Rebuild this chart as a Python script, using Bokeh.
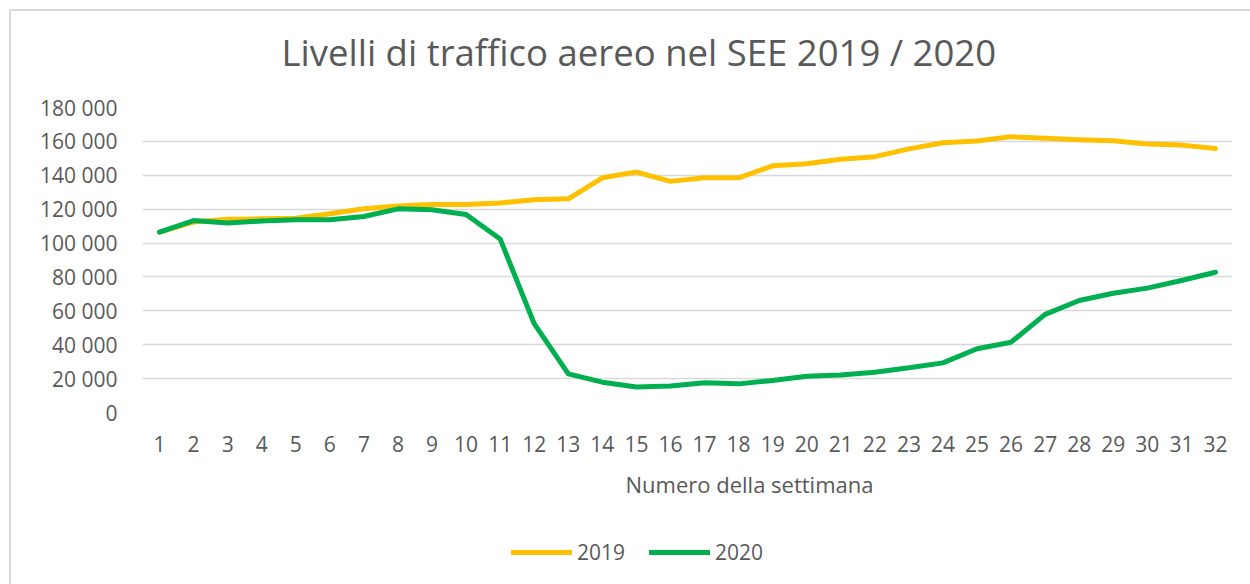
from bokeh.plotting import figure
from bokeh.models import Range1d, Legend, LegendItem, FixedTicker, Title, Label
from bokeh.layouts import column
from bokeh.embed import file_html
from bokeh.resources import INLINE

weeks = list(range(1, 33))
week_labels = [str(w) for w in weeks]
traffic_2019 = [106500, 112400, 114100, 114300, 114700, 117300, 120200, 121800,
                122800, 122800, 123600, 125600, 126100, 138500, 141900, 136400,
                138500, 138500, 145600, 146800, 149400, 151000, 155600, 159200,
                160200, 162800, 161800, 161000, 160400, 158400, 157800, 155800]
traffic_2020 = [106400, 113300, 111800, 113000, 113800, 113800, 115700, 120200,
                119600, 116900, 102400, 52400, 22800, 17900, 15000, 15600,
                17500, 16900, 18900, 21400, 22200, 23800, 26400, 29300,
                37600, 41500, 57900, 66100, 70400, 73400, 77900, 82800]
y_ticks = [0, 20000, 40000, 60000, 80000, 100000, 120000, 140000, 160000, 180000]
y_tick_labels = ["0", "20 000", "40 000", "60 000", "80 000", "100 000",
                 "120 000", "140 000", "160 000", "180 000"]
title_text = "Livelli di traffico aereo nel SEE 2019 / 2020"
x_title = "Numero della settimana"
series_names = ["2019", "2020"]
series_colors = ["#FFC000", "#00B050"]

FONT = "Open Sans"
TXT = "#595959"
LW = 5
W = 1239


def strip(height):
    s = figure(width=W, height=height, output_backend="svg", toolbar_location=None,
               x_range=Range1d(0, 1), y_range=Range1d(0, 1),
               x_axis_type=None, y_axis_type=None,
               min_border_left=0, min_border_right=0, min_border_top=0,
               min_border_bottom=0)
    s.outline_line_color = None
    s.grid.visible = False
    s.border_fill_color = "white"
    s.background_fill_color = "white"
    return s


# title strip
t = strip(80)
t.add_layout(Label(x=139 / 1090, y=1 - 40 / 80, text=title_text,
                   text_align="left", text_baseline="alphabetic",
                   text_font=FONT, text_font_size="36.5px", text_color=TXT))

# main chart
p = figure(width=W, height=429, output_backend="svg", toolbar_location=None,
           x_range=Range1d(0.5, 32.5), y_range=Range1d(0, 180000),
           min_border_left=131, min_border_right=18, min_border_top=16,
           min_border_bottom=108)
p.outline_line_color = None
p.background_fill_color = "white"
p.border_fill_color = "white"

p.line(weeks, traffic_2019, line_color=series_colors[0], line_width=LW,
       line_cap="round", line_join="round")
p.line(weeks, traffic_2020, line_color=series_colors[1], line_width=LW,
       line_cap="round", line_join="round")

p.xgrid.visible = False
p.ygrid.grid_line_color = "#d9d9d9"
p.ygrid.grid_line_width = 1.5
p.yaxis.ticker = FixedTicker(ticks=y_ticks)
p.yaxis.major_label_overrides = {tk: lb for tk, lb in zip(y_ticks, y_tick_labels)}
p.xaxis.ticker = FixedTicker(ticks=weeks)
p.xaxis.major_label_overrides = {w: lb for w, lb in zip(weeks, week_labels)}
for ax in (p.xaxis, p.yaxis):
    ax.axis_line_color = None
    ax.major_tick_line_color = None
    ax.minor_tick_line_color = None
    ax.major_tick_out = 0
    ax.major_tick_in = 0
    ax.major_label_text_font = FONT
    ax.major_label_text_font_size = "21px"
    ax.major_label_text_color = TXT
p.yaxis.major_label_standoff = 25
p.xaxis.major_label_standoff = 23

xt = Title(text=x_title, align="left", offset=483, standoff=24,
           text_font=FONT, text_font_size="22px", text_font_style="normal",
           text_color=TXT)
p.add_layout(xt, "below")

# legend strip
q = strip(64)
nan = float("nan")
d19 = q.line(x=[nan], y=[nan], line_color=series_colors[0], line_width=LW, line_cap="round")
d20 = q.line(x=[nan], y=[nan], line_color=series_colors[1], line_width=LW, line_cap="round")
legend = Legend(items=[LegendItem(label=series_names[0], renderers=[d19]),
                       LegendItem(label=series_names[1], renderers=[d20])],
                orientation="horizontal", location=(369, 18),
                glyph_width=61, glyph_height=20, label_standoff=5, spacing=24,
                label_text_font=FONT, label_text_font_size="21px", label_text_color=TXT,
                label_height=20, padding=0, margin=0, border_line_color=None,
                background_fill_alpha=0)
q.add_layout(legend, "center")

layout = column(t, p, q, spacing=0,
                styles={"margin-left": "9px", "margin-top": "9px",
                        "border-top": "2px solid #d9d9d9",
                        "border-left": "2px solid #d9d9d9"})

open("out.html", "w").write(file_html(layout, INLINE))
